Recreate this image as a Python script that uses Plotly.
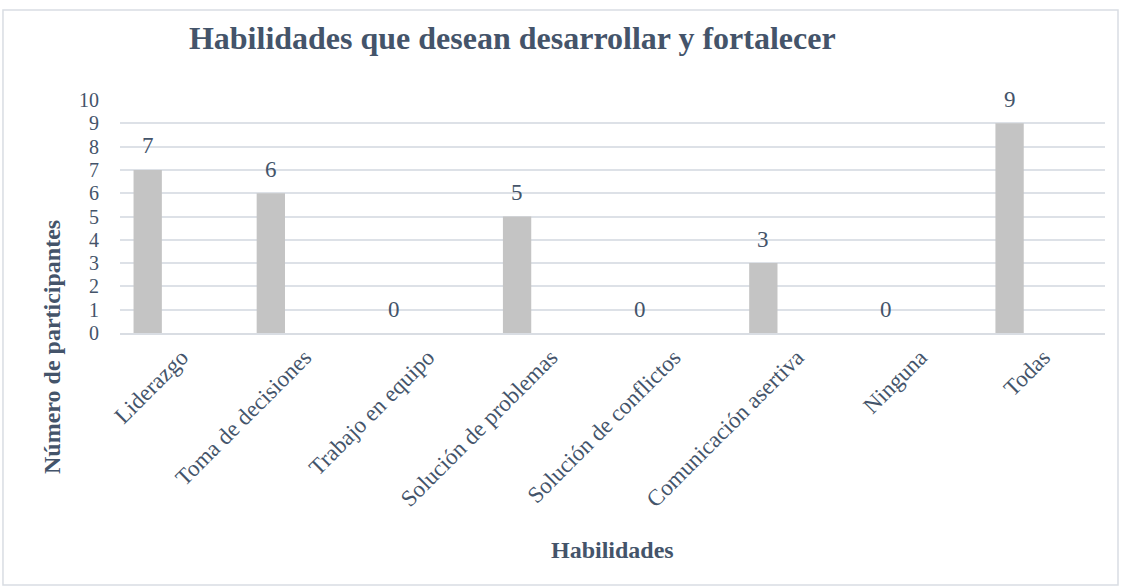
import plotly.graph_objects as go

categorias = ["Liderazgo", "Toma de decisiones", "Trabajo en equipo", "Solución de problemas",
              "Solución de conflictos", "Comunicación asertiva", "Ninguna", "Todas"]
participantes = [7, 6, 0, 5, 0, 3, 0, 9]
y_ticks = list(range(0, 11))

TXT = "#44546A"
FONT = "Liberation Serif"
BAR_OFFSET = -0.39
BAR_WIDTH = 0.23

fig = go.Figure()
fig.add_trace(go.Bar(
    x=categorias, y=participantes,
    offset=BAR_OFFSET, width=BAR_WIDTH,
    marker=dict(color="#C4C4C4", line=dict(width=0)),
    hoverinfo="x+y",
))

# data labels above each bar
annotations = []
for i, v in enumerate(participantes):
    annotations.append(dict(
        x=i + BAR_OFFSET + BAR_WIDTH / 2, y=v, xref="x", yref="y",
        text=str(v), showarrow=False, yanchor="middle", yshift=24,
        font=dict(family=FONT, size=23, color=TXT)))

annotations += [
    dict(text="<b>Número de participantes</b>", textangle=-90, xref="paper", yref="paper",
         x=-0.069, y=-0.06, xanchor="center", yanchor="middle", showarrow=False,
         font=dict(family=FONT, size=24, color=TXT)),
    dict(text="<b>Habilidades</b>", xref="paper", yref="paper",
         x=0.5, y=-0.931, xanchor="center", yanchor="middle", showarrow=False,
         font=dict(family=FONT, size=24, color=TXT)),
]

fig.update_layout(
    width=1121, height=587,
    margin=dict(l=120, r=16, t=100, b=254),
    paper_bgcolor="white", plot_bgcolor="white",
    showlegend=False,
    title=dict(text="<b>Habilidades que desean desarrollar y fortalecer</b>",
               x=0.457, xanchor="center", y=0.935, yanchor="middle",
               font=dict(family=FONT, size=32, color=TXT)),
    xaxis=dict(tickangle=-45, tickfont=dict(family=FONT, size=23, color=TXT),
               showgrid=False, showline=True, linecolor="#D9DDE3", linewidth=1.5,
               ticks="", range=[-0.5, len(categorias) - 0.5]),
    yaxis=dict(range=[0, 10], tickvals=y_ticks, tickfont=dict(family=FONT, size=20, color=TXT),
               showgrid=True, gridcolor="#DDE1E7", gridwidth=1.5, zeroline=False,
               showline=False, ticks="", ticklabelstandoff=20),
    font=dict(family=FONT, color=TXT),
    annotations=annotations,
    shapes=[dict(type="rect", xref="paper", yref="paper",
                 x0=-0.1188, x1=1.0132, y0=-1.082, y1=1.386,
                 line=dict(color="#D9DDE3", width=1.5), layer="below")],
)

fig.write_html("out.html", config={"displayModeBar": False},
               post_script="document.body.style.margin='0';")
